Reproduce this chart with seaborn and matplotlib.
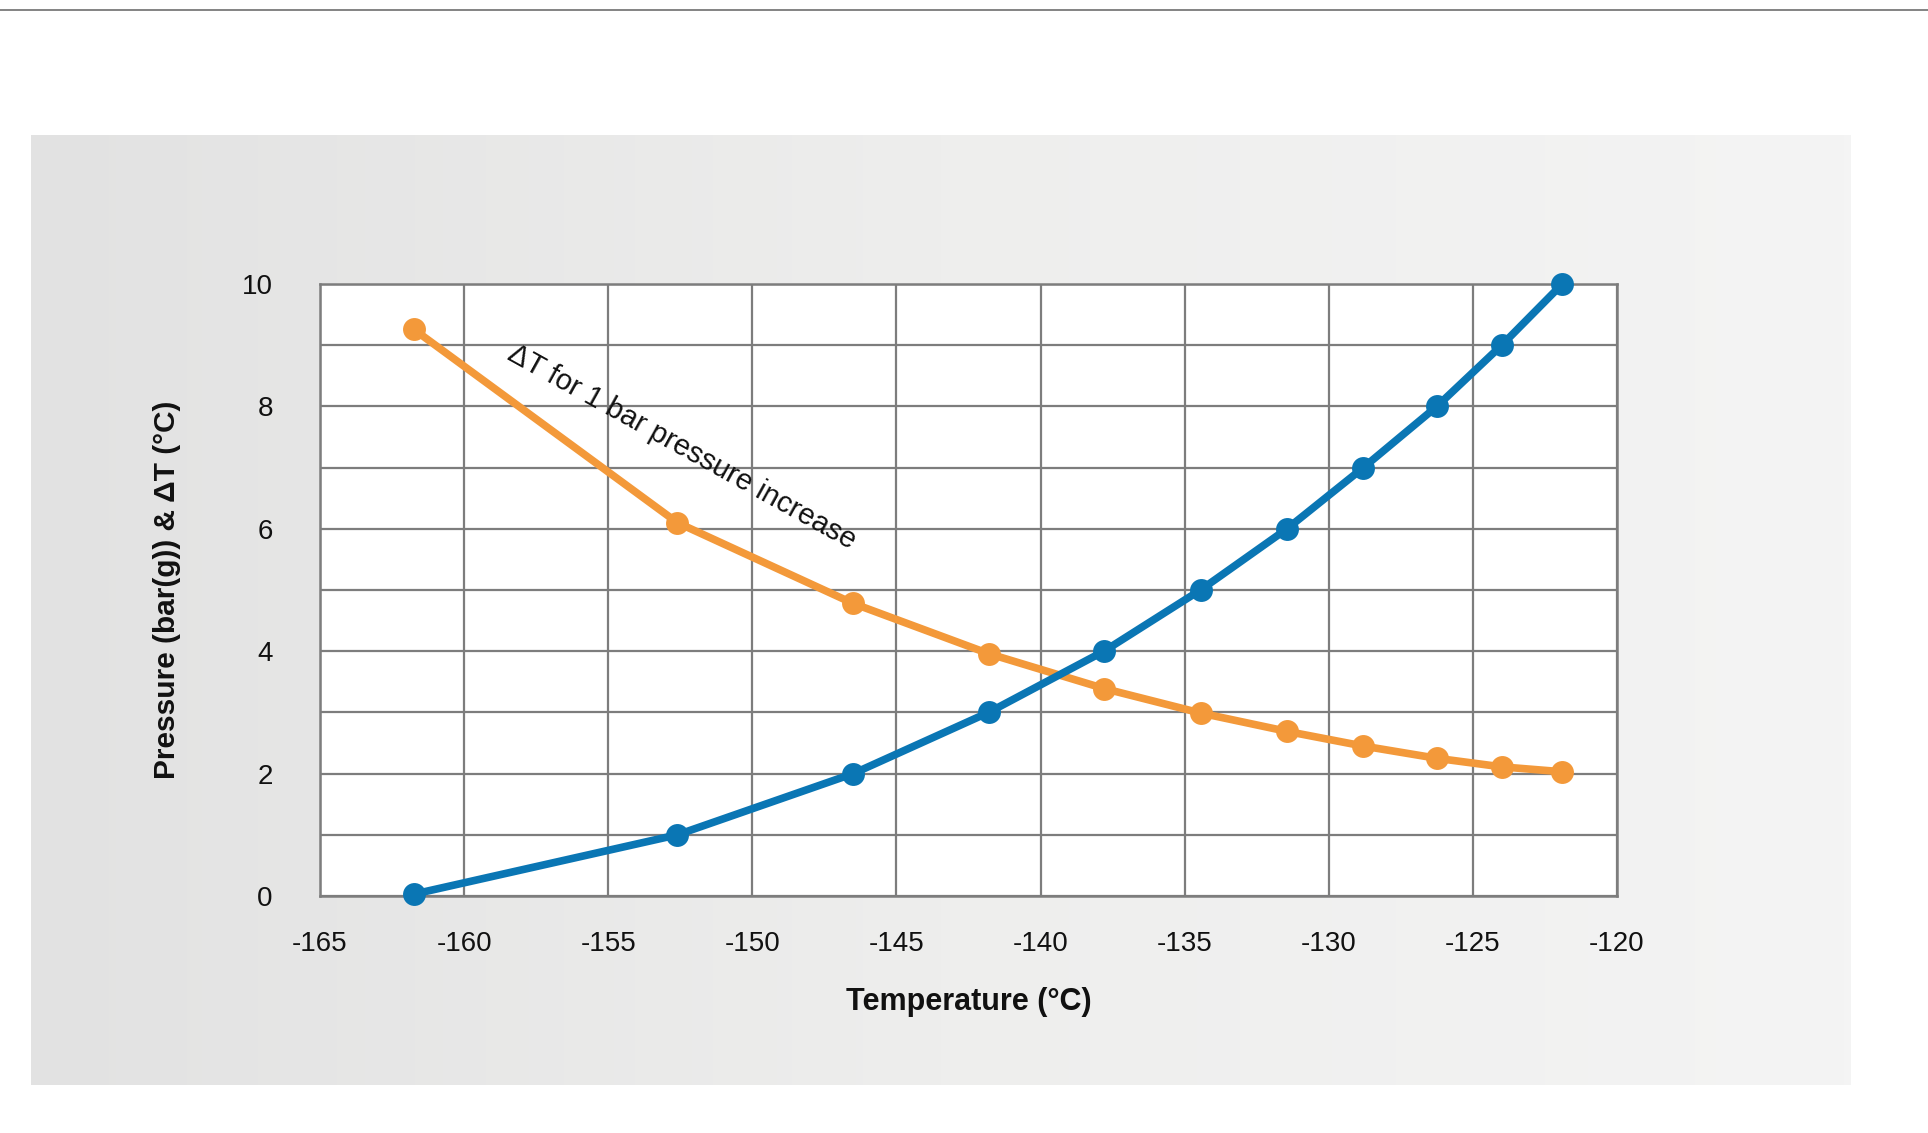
import numpy as np
import pandas as pd
import matplotlib
matplotlib.use("Agg")
import matplotlib.pyplot as plt
import seaborn as sns

# ---- data ----
temperature = [-161.75, -152.6, -146.5, -141.8, -137.8, -134.45, -131.45, -128.8, -126.25, -124.0, -121.9]
pressure = [0.03, 1, 2, 3, 4, 5, 6, 7, 8, 9, 10]
delta_t = [9.26, 6.10, 4.78, 3.96, 3.39, 2.99, 2.69, 2.45, 2.25, 2.11, 2.03]
x_ticks = [-165, -160, -155, -150, -145, -140, -135, -130, -125, -120]
y_ticks = [0, 2, 4, 6, 8, 10]

BLUE = "#0a76b4"
ORANGE = "#f3993a"
GRID = "#7d7d7d"

sns.set_theme(style="white")
plt.rcParams['font.family'] = ['Liberation Sans', 'DejaVu Sans']

W, H = 1928, 1133
fig = plt.figure(figsize=(W / 100, H / 100), dpi=100)
fig.patch.set_facecolor("white")

# top thin rule
fig.add_artist(plt.Line2D([0, 1], [1 - 10 / H, 1 - 10 / H], color="#6e6e6e", lw=1.2))

# gradient panel
bg = fig.add_axes([31 / W, 1 - 1085 / H, (1851 - 31) / W, (1085 - 135) / H])
grad = np.linspace(0, 1, 256).reshape(1, -1)
cmap = matplotlib.colors.LinearSegmentedColormap.from_list("g", ["#e2e2e2", "#eeeeed", "#f4f4f4"])
bg.imshow(grad, aspect="auto", cmap=cmap, extent=[0, 1, 0, 1])
bg.set_axis_off()

# main plot
L, R, T, B = 320, 1617, 284, 896
ax = fig.add_axes([L / W, 1 - B / H, (R - L) / W, (B - T) / H])
ax.set_facecolor("white")

df = pd.DataFrame({"Temperature": temperature, "Pressure": pressure, "DeltaT": delta_t})
sns.lineplot(data=df, x="Temperature", y="Pressure", ax=ax, color=BLUE, lw=5.5,
             marker="o", markersize=16.5, markeredgewidth=0, zorder=4, clip_on=False)
sns.lineplot(data=df, x="Temperature", y="DeltaT", ax=ax, color=ORANGE, lw=5.5,
             marker="o", markersize=16.5, markeredgewidth=0, zorder=3, clip_on=False)

ax.set_xlim(-165, -120)
ax.set_ylim(0, 10)
ax.set_xticks(x_ticks)
ax.set_yticks(y_ticks)
ax.set_yticks(np.arange(0, 11, 1), minor=True)
ax.set_xticklabels([str(v) for v in x_ticks])
ax.set_yticklabels([str(v) for v in y_ticks])
ax.grid(True, which="both", axis="y", color=GRID, lw=1.6, zorder=0)
ax.grid(True, which="major", axis="x", color=GRID, lw=1.6, zorder=0)
ax.set_axisbelow(True)
for s in ax.spines.values():
    s.set_color(GRID)
    s.set_linewidth(1.8)
ax.tick_params(axis="both", which="both", length=0, labelsize=20, colors="#111111")
ax.tick_params(axis="x", pad=25)
ax.tick_params(axis="y", pad=34)
for lbl in ax.get_yticklabels():
    lbl.set_horizontalalignment("right")

ax.set_xlabel("Temperature (°C)", fontsize=22, fontweight="bold", labelpad=22, color="#111111")
ax.set_ylabel("Pressure (bar(g)) & ΔT (°C)", fontsize=21.5, fontweight="bold", labelpad=44, color="#111111")

ax.text(-158.4, 8.9, "ΔT for 1 bar pressure increase", rotation=-29, rotation_mode="anchor",
        ha="left", va="center", fontsize=21, color="#111111", zorder=5)

fig.savefig("out.png", dpi=100, facecolor="white")
